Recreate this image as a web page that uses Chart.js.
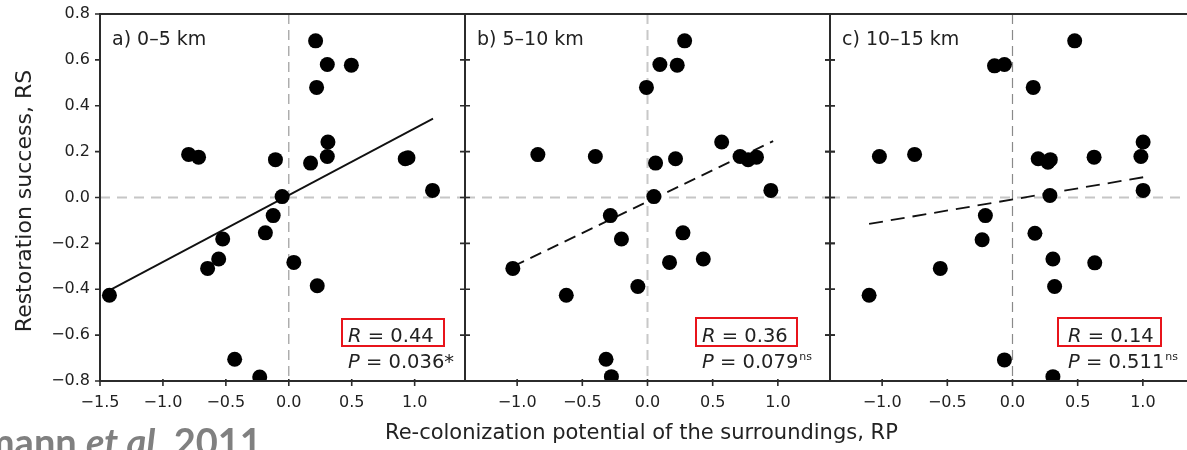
<!DOCTYPE html>
<html><head><meta charset="utf-8">
<script src="https://cdn.jsdelivr.net/npm/chart.js@4.4.0/dist/chart.umd.min.js"></script>
<style>
html,body{margin:0;padding:0;width:1187px;height:450px;overflow:hidden;background:#fff;position:relative;}
canvas{position:absolute;top:0;}
#c1{left:0}
#c2{left:455px}
#c3{left:820px}
.t{position:absolute;font-family:"DejaVu Sans";color:#222;white-space:nowrap;}
#cap{position:absolute;top:422px;font-family:Lato,"Open Sans",sans-serif;font-weight:bold;font-size:38px;line-height:38px;color:#808080;white-space:nowrap;}
</style></head><body>
<canvas id="c1" width="475" height="450"></canvas>
<canvas id="c2" width="385" height="450"></canvas>
<canvas id="c3" width="385" height="450"></canvas>
<div class="t" id="xt" style="left:385px;top:422px;font-size:21px;line-height:21px;">Re-colonization potential of the surroundings, RP</div>
<div class="t" id="yt" style="left:-126px;top:190px;width:300px;height:22px;font-size:22px;line-height:22px;text-align:center;transform:rotate(-90deg);">Restoration success, RS</div>
<div id="cap"><span id="capA">mann </span><i>et al.</i> 2011</div>
<script>
// ---------- data ----------
const yTickVals = [-0.8,-0.6,-0.4,-0.2,0,0.2,0.4,0.6,0.8];
const xTickValsA = [-1.5,-1.0,-0.5,0,0.5,1.0];
const xTickValsBC = [-1.0,-0.5,0,0.5,1.0];

const rpA = [0.213,0.306,0.497,0.221,-0.796,-0.717,-0.106,0.173,0.311,0.306,0.947,0.925,1.142,-0.053,-0.124,-0.186,-0.525,-0.557,-0.645,0.040,0.226,-1.425,-0.430,-0.231];
const rsA = [0.683,0.580,0.577,0.480,0.188,0.176,0.165,0.150,0.242,0.179,0.173,0.169,0.031,0.004,-0.079,-0.154,-0.181,-0.268,-0.309,-0.283,-0.385,-0.426,-0.705,-0.783];

const rpB = [0.285,0.095,0.228,-0.008,-0.841,-0.400,0.062,0.215,0.569,0.710,0.772,0.836,0.946,0.049,-0.285,-0.200,0.272,0.169,0.428,-0.074,-1.033,-0.623,-0.318,-0.277];
const rsB = [0.683,0.580,0.577,0.480,0.187,0.179,0.150,0.169,0.242,0.179,0.165,0.176,0.031,0.004,-0.079,-0.181,-0.154,-0.283,-0.268,-0.388,-0.309,-0.426,-0.705,-0.781];

const rpC = [0.477,-0.138,-0.062,0.159,-1.021,-0.751,0.197,0.272,0.290,0.626,1.002,0.985,1.002,0.287,-0.208,-0.233,0.172,0.310,0.631,0.323,-0.554,-1.100,-0.062,0.310];
const rsC = [0.683,0.574,0.580,0.480,0.179,0.188,0.169,0.154,0.165,0.176,0.242,0.179,0.031,0.009,-0.079,-0.184,-0.156,-0.268,-0.285,-0.388,-0.309,-0.426,-0.708,-0.781];

const fitAx = [-1.433, 1.146], fitAy = [-0.407, 0.344];
const fitBx = [-1.030, 0.964], fitBy = [-0.300, 0.246];
const fitCx = [-1.100, 1.010], fitCy = [-0.115, 0.089];

const panelLabels = ["a) 0–5 km", "b) 5–10 km", "c) 10–15 km"];
const rValues = ["0.44", "0.36", "0.14"];
const pValues = ["0.036", "0.079", "0.511"];
const pMarks = ["*", "ns", "ns"];

// ---------- helpers ----------
const FONT = '"DejaVu Sans"';
const pts = (xs, ys) => xs.map((x, i) => ({x, y: ys[i]}));
const fmt = v => (v < -1e-9 ? '\u2212' : '') + Math.abs(v).toFixed(1);

function panelPlugin(cfg) {
  return {
    id: 'panel' + cfg.i,
    beforeDatasetsDraw(chart) {
      const {ctx, chartArea: a, scales: {x, y}} = chart;
      ctx.save();
      const y0 = y.getPixelForValue(0);
      ctx.strokeStyle = '#c6c6c6'; ctx.lineWidth = 2; ctx.setLineDash([10, 7]);
      ctx.beginPath(); ctx.moveTo(a.left, y0); ctx.lineTo(a.right, y0); ctx.stroke();
      const x0 = x.getPixelForValue(0);
      ctx.strokeStyle = cfg.vColor; ctx.lineWidth = cfg.vWidth; ctx.setLineDash([10, 6]);
      ctx.beginPath(); ctx.moveTo(x0, a.top); ctx.lineTo(x0, a.bottom); ctx.stroke();
      ctx.restore();
    },
    afterDatasetsDraw(chart) {
      const {ctx, chartArea: a, scales: {x, y}} = chart;
      ctx.save();
      ctx.setLineDash([]);
      ctx.strokeStyle = '#2b2b2b'; ctx.lineWidth = 2;
      ctx.beginPath();
      ctx.moveTo(a.left - 1, a.top); ctx.lineTo(a.right + 1, a.top);
      ctx.moveTo(a.left, a.top); ctx.lineTo(a.left, a.bottom);
      ctx.moveTo(a.left - 1, a.bottom); ctx.lineTo(a.right + 1, a.bottom);
      if (cfg.right) { ctx.moveTo(a.right, a.top); ctx.lineTo(a.right, a.bottom); }
      ctx.stroke();
      ctx.lineWidth = 1.6;
      ctx.beginPath();
      yTickVals.forEach(v => {
        const py = y.getPixelForValue(v);
        ctx.moveTo(a.left - 5, py); ctx.lineTo(a.left + cfg.inL, py);
        if (cfg.right) { ctx.moveTo(a.right - 5, py); ctx.lineTo(a.right + 5, py); }
      });
      cfg.xt.forEach(v => {
        const px = x.getPixelForValue(v);
        ctx.moveTo(px, a.bottom - 2); ctx.lineTo(px, a.bottom + 5);
      });
      ctx.stroke();
      // panel label
      ctx.fillStyle = '#222';
      ctx.textBaseline = 'alphabetic';
      ctx.textAlign = 'left';
      ctx.font = '19px ' + FONT;
      ctx.fillText(panelLabels[cfg.i], a.left + 12, 45);
      // stats text
      const off = cfg.off;
      const rx = cfg.rx - off;
      ctx.font = 'italic 19.5px ' + FONT;
      ctx.fillText('R', rx, 342);
      let w = ctx.measureText('R').width;
      ctx.font = '19.5px ' + FONT;
      ctx.fillText(' = ' + rValues[cfg.i], rx + w, 342);
      ctx.font = 'italic 19.5px ' + FONT;
      ctx.fillText('P', rx, 368);
      w = ctx.measureText('P').width;
      ctx.font = '19.5px ' + FONT;
      const ptxt = ' = ' + pValues[cfg.i];
      ctx.fillText(ptxt, rx + w, 368);
      w += ctx.measureText(ptxt).width;
      if (pMarks[cfg.i] === '*') {
        ctx.fillText('*', rx + w, 368);
      } else {
        ctx.font = '11px ' + FONT;
        ctx.fillText(pMarks[cfg.i], rx + w + 1, 360);
      }
      // red box
      ctx.strokeStyle = '#e8141b'; ctx.lineWidth = 2;
      ctx.strokeRect(cfg.box[0] - off, cfg.box[1], cfg.box[2], cfg.box[3]);
      ctx.restore();
    }
  };
}

function makeChart(id, cfg) {
  return new Chart(document.getElementById(id), {
    type: 'scatter',
    data: {
      datasets: [
        {data: pts(cfg.px, cfg.py), pointRadius: 7.5, pointHoverRadius: 7.5, pointBackgroundColor: '#000', pointBorderWidth: 0, backgroundColor: '#000', order: 1},
        {type: 'line', data: pts(cfg.fx, cfg.fy), borderColor: '#111', borderWidth: 1.8, borderDash: cfg.dash, pointRadius: 0, fill: false, tension: 0, order: 2}
      ]
    },
    options: {
      responsive: false, animation: false, events: [],
      layout: {padding: {left: cfg.padL, right: 10, top: 14, bottom: 0}},
      plugins: {legend: {display: false}, tooltip: {enabled: false}},
      scales: {
        x: {
          type: 'linear', min: cfg.xmin, max: cfg.xmax,
          grid: {display: false, drawTicks: false}, border: {display: false},
          ticks: {font: {family: 'DejaVu Sans', size: 16}, color: '#222', padding: 12, maxRotation: 0, autoSkip: false, callback: fmt},
          afterBuildTicks: s => { s.ticks = cfg.xt.map(v => ({value: v})); },
          afterFit: s => { s.height = 69; s.paddingLeft = 0; s.paddingRight = 0; }
        },
        y: {
          type: 'linear', min: -0.8, max: 0.8,
          grid: {display: false, drawTicks: false}, border: {display: false},
          ticks: {display: cfg.yLabels, font: {family: 'DejaVu Sans', size: 16}, color: '#222', padding: 10, callback: fmt},
          afterBuildTicks: s => { s.ticks = yTickVals.map(v => ({value: v})); },
          afterFit: s => { s.width = cfg.yLabels ? 100 : 0; s.paddingTop = 0; s.paddingBottom = 0; }
        }
      }
    },
    plugins: [panelPlugin(cfg)]
  });
}

makeChart('c1', {i: 0, off: 0, padL: 0, yLabels: true, xmin: -1.5, xmax: 1.4, xt: xTickValsA,
  px: rpA, py: rsA, fx: fitAx, fy: fitAy, dash: [], vColor: '#9a9a9a', vWidth: 1.2, inL: 1, right: false,
  rx: 348, box: [342, 319, 102, 27]});
makeChart('c2', {i: 1, off: 455, padL: 10, yLabels: false, xmin: -1.4, xmax: 1.4, xt: xTickValsBC,
  px: rpB, py: rsB, fx: fitBx, fy: fitBy, dash: [12, 7], vColor: '#c8c8c8', vWidth: 2, inL: 5, right: true,
  rx: 702, box: [696, 318, 101, 28]});
makeChart('c3', {i: 2, off: 820, padL: 10, yLabels: false, xmin: -1.4, xmax: 1.4, xt: xTickValsBC,
  px: rpC, py: rsC, fx: fitCx, fy: fitCy, dash: [14, 8], vColor: '#8a8a8a', vWidth: 1.2, inL: 5, right: false,
  rx: 1068, box: [1058, 318, 103, 28]});

// caption placement: "et al." should start near x=86, first glyph partly cut
const cap = document.getElementById('cap');
const wA = document.getElementById('capA').getBoundingClientRect().width;
cap.style.left = (86 - wA) + 'px';
</script>
</body></html>
